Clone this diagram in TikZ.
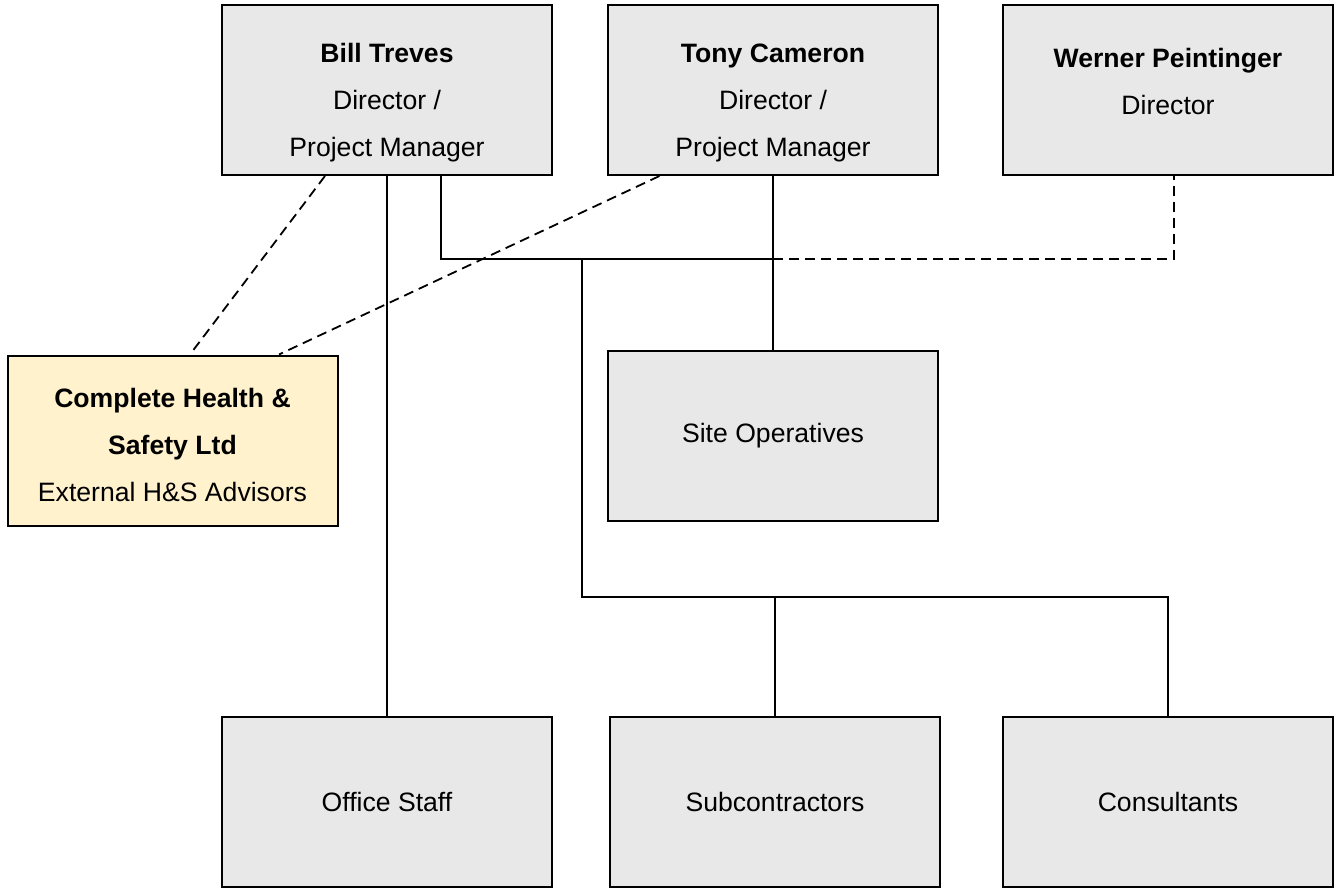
\documentclass[tikz,border=0pt]{standalone}
\usepackage{fontspec}
\setmainfont{Liberation Sans}
\usetikzlibrary{positioning}
\definecolor{boxgray}{HTML}{E8E8E8}
\definecolor{hsyellow}{HTML}{FFF2CC}
\newcommand{\padtop}[1]{\rule{0pt}{#1}} % pushes the text down in a box
\newcommand{\padbot}[1]{\rule[-#1]{0pt}{0pt}} % pushes the text up in a box
\tikzset{
    x=0.5pt, y=-0.5pt, % one unit is one pixel of the chart
    orgbox/.style={draw, line width=1pt, fill=boxgray, minimum width=165pt,
        minimum height=85pt, align=center, inner sep=0pt,
        font=\fontsize{13.3}{23.5}\selectfont}, % grey staff box
    hsbox/.style={orgbox, fill=hsyellow}, % external advisors
    link/.style={line width=0.9pt}, % solid reporting line
    dotlink/.style={link, dash pattern=on 5pt off 3pt}, % dashed line
}
\begin{document}
\begin{tikzpicture}
    \useasboundingbox (0,0) rectangle (1339,888);
    % top row
    \node[orgbox] (bill) at (387,90) {\padtop{22.7pt}\textbf{Bill Treves}\\Director /\\Project Manager};
    \node[orgbox, right=27pt of bill] (tony) {\padtop{22.7pt}\textbf{Tony Cameron}\\Director /\\Project Manager};
    \node[orgbox, right=31.5pt of tony] (werner) {\textbf{Werner Peintinger}\\Director\padbot{9pt}};
    % middle
    \node[hsbox] (hs) at (172.5,440.5) {\padtop{13.7pt}\textbf{Complete Health \&}\\\textbf{Safety Ltd}\\External H\&S Advisors};
    \node[orgbox, below=87pt of tony] (site) {Site Operatives};
    % bottom row
    \node[orgbox] (office) at (387,802) {Office Staff};
    \node[orgbox, right=28pt of office] (sub) {Subcontractors};
    \node[orgbox, right=30.5pt of sub] (cons) {Consultants};
    % junctions
    \coordinate (bsplit) at (441,259);
    \coordinate (wcorner) at (1174,259);
    \coordinate (tsplit) at (tony.south |- bsplit);
    \coordinate (lsplit) at (582,259);
    \coordinate (lcorner) at (582,597);
    \coordinate (rcorner) at (cons.north |- lcorner);
    \coordinate (subsplit) at (sub.north |- lcorner);
    % lines
    \draw[link] (bill.south) -- (office.north);
    \draw[link] (bsplit |- bill.south) -- (bsplit) -- (tsplit);
    \draw[dotlink] (tsplit) -- (wcorner) -- (wcorner |- werner.south);
    \draw[link] (tony.south) -- (site.north);
    \draw[link] (lsplit) -- (lcorner) -- (rcorner) -- (cons.north);
    \draw[link] (subsplit) -- (sub.north);
    \draw[dotlink] ([xshift=-31pt]bill.south) -- ([xshift=8.75pt]hs.north);
    \draw[dotlink] ([xshift=-56.75pt]tony.south) -- ([xshift=53.25pt]hs.north);
\end{tikzpicture}
\end{document}
